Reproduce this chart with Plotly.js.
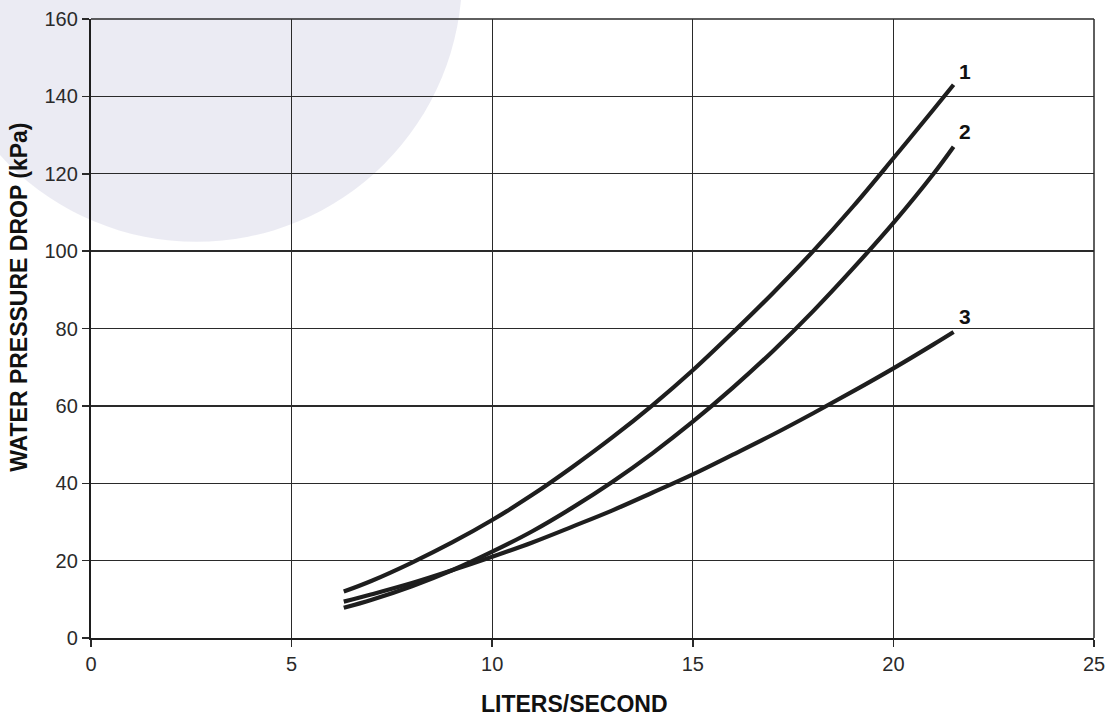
<!DOCTYPE html>
<html>
<head>
<meta charset="utf-8">
<script src="https://cdn.plot.ly/plotly-3.0.1.min.js"></script>
<style>html,body{margin:0;padding:0;background:#fff;}#chart{width:1112px;height:719px;}</style>
</head>
<body>
<div id="chart"></div>
<script>
// Flow (liters/second) and water pressure drop (kPa)
const flow = [6.3, 7, 8, 9, 10, 11, 12, 13, 14, 15, 16, 17, 18, 19, 20, 21, 21.5];
const curve1 = [12.0, 14.8, 19.5, 24.7, 30.5, 37.0, 44.2, 51.9, 60.2, 69.2, 79.0, 89.2, 100.0, 111.6, 124.0, 136.6, 143.0];
const curve2 = [7.8, 9.9, 13.4, 17.5, 22.3, 27.6, 33.7, 40.4, 47.8, 55.9, 64.7, 74.2, 84.5, 95.6, 107.3, 120.0, 127.0];
const curve3 = [9.4, 11.3, 14.2, 17.5, 21.0, 24.7, 28.8, 33.0, 37.6, 42.3, 47.4, 52.6, 58.1, 63.8, 69.7, 75.9, 79.1];
const curveNames = ['1', '2', '3'];
const labelPos = [[21.78, 146.5], [21.78, 131], [21.78, 83]];
const xTicks = [0, 5, 10, 15, 20, 25];
const yTicks = [0, 20, 40, 60, 80, 100, 120, 140, 160];
const xTitle = 'LITERS/SECOND';
const yTitle = 'WATER PRESSURE DROP (kPa)';

const series = [curve1, curve2, curve3];
const traces = series.map((ys, i) => ({
  x: flow, y: ys, type: 'scatter', mode: 'lines', name: curveNames[i],
  line: {color: '#1e1e1e', width: 4.2, shape: 'spline', smoothing: 1},
  hoverinfo: 'skip', showlegend: false
}));

const FONT = 'Liberation Sans, Arial, Helvetica, sans-serif';
const annotations = curveNames.map((n, i) => ({
  x: labelPos[i][0], y: labelPos[i][1], xref: 'x', yref: 'y', text: '<b>' + n + '</b>',
  showarrow: false, font: {family: FONT, size: 21, color: '#111'}
}));
annotations.push({
  x: 0.482, y: -0.107, xref: 'paper', yref: 'paper', yanchor: 'middle', xanchor: 'center',
  text: '<b>' + xTitle + '</b>', showarrow: false,
  font: {family: FONT, size: 23, color: '#111'}
});
annotations.push({
  x: -0.0725, y: 0.55, xref: 'paper', yref: 'paper', xanchor: 'center', yanchor: 'middle',
  text: '<b>' + yTitle + '</b>', showarrow: false, textangle: -90,
  font: {family: FONT, size: 23, color: '#111'}
});

const layout = {
  width: 1112, height: 719,
  margin: {l: 91, r: 18, t: 19, b: 81},
  paper_bgcolor: '#ffffff', plot_bgcolor: 'rgba(0,0,0,0)',
  font: {family: FONT, size: 20, color: '#2a2a2a'},
  xaxis: {
    range: [0, 25], tickvals: xTicks, ticktext: xTicks.map(String),
    showgrid: true, gridcolor: '#2a2a2a', gridwidth: 1.3,
    showline: true, linecolor: '#1e1e1e', linewidth: 2.2,
    ticks: 'outside', ticklen: 7, tickwidth: 1.5, tickcolor: '#2a2a2a', zeroline: false,
    tickfont: {family: FONT, size: 20, color: '#2a2a2a'}
  },
  yaxis: {
    range: [0, 160], tickvals: yTicks, ticktext: yTicks.map(String),
    showgrid: true, gridcolor: '#2a2a2a', gridwidth: 1.3,
    showline: true, linecolor: '#1e1e1e', linewidth: 2.2,
    ticks: 'outside', ticklen: 7, tickwidth: 1.5, tickcolor: '#2a2a2a', zeroline: false,
    tickfont: {family: FONT, size: 20, color: '#2a2a2a'}
  },
  shapes: [
    {type: 'circle', xref: 'paper', yref: 'paper', layer: 'below',
     x0: -0.16, x1: 0.37, y0: 0.64, y1: 1.5,
     fillcolor: 'rgba(222,222,235,0.6)', line: {width: 0}},
    {type: 'line', xref: 'paper', yref: 'paper', x0: 1, x1: 1, y0: 0, y1: 1,
     line: {color: '#2a2a2a', width: 1.5}},
    {type: 'line', xref: 'paper', yref: 'paper', x0: 0, x1: 1, y0: 1, y1: 1,
     line: {color: '#2a2a2a', width: 1.5}}
  ],
  annotations: annotations
};

Plotly.newPlot('chart', traces, layout, {staticPlot: true, displayModeBar: false});
</script>
</body>
</html>
